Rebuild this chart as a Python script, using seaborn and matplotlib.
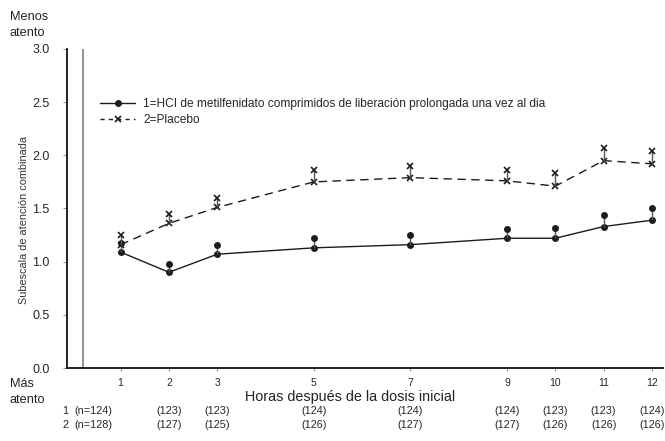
import numpy as np
import pandas as pd
import matplotlib
matplotlib.use("Agg")
import matplotlib.pyplot as plt
import matplotlib.transforms as mtrans
from matplotlib.lines import Line2D
import seaborn as sns

# Horas de evaluación y medias (con error estándar) por grupo
horas = [1, 2, 3, 5, 7, 9, 10, 11, 12]
media_mph = [1.09, 0.90, 1.07, 1.13, 1.16, 1.22, 1.22, 1.33, 1.39]
ee_mph = [0.09, 0.08, 0.09, 0.09, 0.09, 0.09, 0.10, 0.11, 0.11]
media_placebo = [1.16, 1.36, 1.51, 1.75, 1.79, 1.76, 1.71, 1.95, 1.92]
ee_placebo = [0.09, 0.09, 0.09, 0.11, 0.11, 0.10, 0.12, 0.12, 0.12]
n_mph = [124, 123, 123, 124, 124, 124, 123, 123, 124]
n_placebo = [128, 127, 125, 126, 127, 127, 126, 126, 126]
etiquetas = ["1=HCI de metilfenidato comprimidos de liberación prolongada una vez al dia",
             "2=Placebo"]
y_ticks = [0.0, 0.5, 1.0, 1.5, 2.0, 2.5, 3.0]

sns.set_style("ticks")
plt.rcParams["font.family"] = ["Liberation Sans", "DejaVu Sans"]

fig = plt.figure(figsize=(6.65, 4.41), dpi=100)
ax = fig.add_axes([0.1008, 0.1655, 0.8962, 0.7235])

df = pd.DataFrame({
    "hora": horas * 2,
    "media": media_mph + media_placebo,
    "ee": ee_mph + ee_placebo,
    "grupo": ["1"] * len(horas) + ["2"] * len(horas),
})
df["sup"] = df["media"] + df["ee"]

negro = "#1c1c1c"
estilos = {
    "1": dict(marker="o", markersize=5, markeredgewidth=0, linestyle="-"),
    "2": dict(marker="x", markersize=5, markeredgewidth=1.2, linestyle=(0, (6, 4))),
}

for g, sub in df.groupby("grupo"):
    st = estilos[g]
    sns.lineplot(data=sub, x="hora", y="media", ax=ax, color=negro, linewidth=1,
                 marker=st["marker"], markersize=st["markersize"],
                 markeredgewidth=st["markeredgewidth"], markeredgecolor=negro,
                 linestyle=st["linestyle"], legend=False)
    ax.vlines(sub["hora"], sub["media"], sub["sup"], color="#555555", linewidth=1)
    ax.plot(sub["hora"], sub["sup"], linestyle="none", color=negro,
            marker=st["marker"], markersize=st["markersize"],
            markeredgewidth=st["markeredgewidth"], markeredgecolor=negro)

# Línea de referencia gris junto al eje vertical
ax.axvline(0.22, color="#8a8a8a", linewidth=1.3)

ax.set_xlim(-0.11, 12.23)
ax.set_ylim(0, 3.0)
ax.set_xticks(horas)
ax.set_xticklabels([str(h) for h in horas])
ax.set_yticks(y_ticks)
ax.set_yticklabels([f"{v:.1f}" for v in y_ticks])
ax.tick_params(axis="x", length=2, width=0.8, color="#999999", labelsize=7.5, pad=5)
ax.tick_params(axis="y", length=3, width=0.8, color="#999999", labelsize=9, pad=9.5)
ax.set_xlabel("")
ax.set_ylabel("Subescala de atención combinada", fontsize=7.8, color="#333333")
ax.yaxis.set_label_coords(-0.064, 0.465)

sns.despine(ax=ax)
for s in ("left", "bottom"):
    ax.spines[s].set_linewidth(1.3)
    ax.spines[s].set_color("#111111")

handles = [
    Line2D([], [], color=negro, linewidth=1, marker="o", markersize=5, markeredgewidth=0),
    Line2D([], [], color=negro, linewidth=1, linestyle=(0, (3, 3)), marker="x",
           markersize=5, markeredgewidth=1.2),
]
ax.legend(handles, etiquetas, loc="upper left", bbox_to_anchor=(0.048, 0.86),
          frameon=False, fontsize=8.55, handlelength=2.9, handletextpad=0.7,
          labelspacing=0.3, borderaxespad=0)

ax.text(0.475, -0.091, "Horas después de la dosis inicial", transform=ax.transAxes,
        ha="center", va="center", fontsize=10.4, color="#222222")

# Tamaño de muestra por grupo y hora
tr = mtrans.blended_transform_factory(ax.transData, ax.transAxes)
for fila, (ns, yy) in enumerate(((n_mph, -0.134), (n_placebo, -0.178))):
    ax.text(-0.15, yy, str(fila + 1), transform=tr, ha="center", va="center", fontsize=7.8)
    ax.text(0.43, yy, f"(n={ns[0]})", transform=tr, ha="center", va="center", fontsize=7.8)
    for h, n in zip(horas[1:], ns[1:]):
        ax.text(h, yy, f"({n})", transform=tr, ha="center", va="center", fontsize=7.8)

fig.text(10 / 665, 1 - 25 / 441, "Menos\natento", ha="left", va="center",
         fontsize=9.2, linespacing=1.45, color="#222222")
fig.text(10 / 665, 1 - 392 / 441, "Más\natento", ha="left", va="center",
         fontsize=9.2, linespacing=1.45, color="#222222")

fig.savefig("out.png", dpi=100)
